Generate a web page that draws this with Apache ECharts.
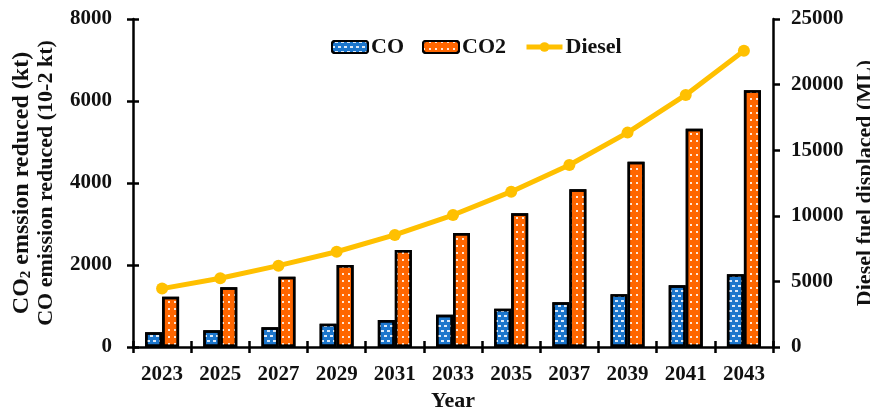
<!DOCTYPE html>
<html>
<head>
<meta charset="utf-8">
<script src="https://cdn.jsdelivr.net/npm/echarts@6/dist/echarts.min.js"></script>
<style>
  html, body { margin: 0; padding: 0; background: #fff; }
  #chart { width: 870px; height: 410px; }
</style>
</head>
<body>
<div id="chart"></div>
<script>
// Years on the category axis
const years = ['2023', '2025', '2027', '2029', '2031', '2033', '2035', '2037', '2039', '2041', '2043'];
// CO emission reduced (10-2 kt), left axis
const coValues = [358, 407, 480, 568, 659, 789, 935, 1089, 1285, 1504, 1772];
// CO2 emission reduced (kt), left axis
const co2Values = [1227, 1456, 1715, 2000, 2366, 2780, 3265, 3850, 4520, 5324, 6260];
// Diesel fuel displaced (ML), right axis
const dieselValues = [4450, 5240, 6200, 7260, 8540, 10060, 11840, 13870, 16340, 19210, 22580];

const FONT = '"Liberation Serif", "Times New Roman", serif';
const tickFont = { fontFamily: FONT, fontWeight: 'bold', fontSize: 21, color: '#111' };
const titleFont = { fontFamily: FONT, fontWeight: 'bold', fontSize: 22, color: '#111' };
const axisLineStyle = { color: '#000', width: 2.5 };
const tickLine = { color: '#000', width: 2.5 };
const plain = v => String(v);

const chart = echarts.init(document.getElementById('chart'), null, { renderer: 'canvas' });

chart.setOption({
  animation: false,
  backgroundColor: '#fff',
  grid: { left: 133, right: 97, top: 19, bottom: 63, containLabel: false, outerBoundsMode: 'none' },
  legend: {
    data: ['CO', 'CO2', 'Diesel'],
    left: 331,
    top: 36,
    padding: 0,
    itemWidth: 36,
    itemHeight: 12,
    itemGap: 18,
    lineStyle: { width: 5 },
    textStyle: Object.assign({ padding: [0, 0, 0, -2] }, titleFont)
  },
  xAxis: [
    {
      type: 'category',
      data: years,
      position: 'bottom',
      axisLine: { show: true, onZero: false, lineStyle: axisLineStyle },
      axisTick: { show: true, length: 6, lineStyle: tickLine },
      axisLabel: Object.assign({ margin: 17 }, tickFont),
      name: 'Year',
      nameLocation: 'middle',
      nameGap: 41,
      nameTextStyle: titleFont,
      splitLine: { show: false }
    },
    {
      // inward half of the crossing ticks
      type: 'category',
      data: years,
      position: 'bottom',
      axisLine: { show: false, onZero: false },
      axisTick: { show: true, inside: true, length: 6, lineStyle: tickLine },
      axisLabel: { show: false },
      splitLine: { show: false }
    }
  ],
  yAxis: [
    {
      type: 'value',
      position: 'left',
      min: 0, max: 8000, interval: 2000,
      axisLine: { show: true, lineStyle: axisLineStyle },
      axisTick: { show: true, length: 6, lineStyle: tickLine },
      axisLabel: Object.assign({ margin: 21, formatter: plain }, tickFont),
      splitLine: { show: false },
      name: '{big|CO}{sub|2}{big| emssion reduced (kt)}\nCO emission reduced (10-2 kt)',
      nameLocation: 'middle',
      nameRotate: 90,
      nameGap: 73,
      nameTextStyle: Object.assign({
        lineHeight: 25,
        rich: {
          big: { fontFamily: FONT, fontWeight: 'bold', fontSize: 24, color: '#111', lineHeight: 25 },
          sub: { fontFamily: FONT, fontWeight: 'bold', fontSize: 15, color: '#111', lineHeight: 25, verticalAlign: 'bottom', padding: [9, 0, 0, 0] }
        }
      }, titleFont)
    },
    {
      type: 'value',
      position: 'right',
      min: 0, max: 25000, interval: 5000,
      axisLine: { show: true, lineStyle: axisLineStyle },
      axisTick: { show: true, length: 7, lineStyle: tickLine },
      axisLabel: Object.assign({ margin: 18, formatter: plain }, tickFont),
      splitLine: { show: false },
      name: 'Diesel fuel displaced (ML)',
      nameLocation: 'middle',
      nameRotate: 90,
      nameGap: 69,
      nameTextStyle: titleFont
    },
    {
      // inward half of the crossing ticks on the left axis
      type: 'value',
      position: 'left',
      min: 0, max: 8000, interval: 2000,
      axisLine: { show: false },
      axisTick: { show: true, inside: true, length: 6, lineStyle: tickLine },
      axisLabel: { show: false },
      splitLine: { show: false }
    }
  ],
  series: [
    {
      name: 'CO',
      type: 'bar',
      xAxisIndex: 0,
      yAxisIndex: 0,
      data: coValues,
      barWidth: 17,
      barGap: '0%',
      itemStyle: {
        color: '#1c76cc',
        borderColor: '#000',
        borderWidth: 2.5,
        decal: {
          symbol: 'rect',
          symbolSize: 1,
          color: 'rgba(255,255,255,0.85)',
          dashArrayX: [[3, 3], [0, 3, 3, 0]],
          dashArrayY: [1.5, 2.5]
        }
      }
    },
    {
      name: 'CO2',
      type: 'bar',
      xAxisIndex: 0,
      yAxisIndex: 0,
      data: co2Values,
      barWidth: 17,
      barGap: '0%',
      itemStyle: {
        color: '#ff6600',
        borderColor: '#000',
        borderWidth: 2.5,
        decal: {
          symbol: 'rect',
          symbolSize: 1,
          color: 'rgba(255,255,255,0.85)',
          dashArrayX: [2, 4],
          dashArrayY: [2, 4.5]
        }
      }
    },
    {
      name: 'Diesel',
      type: 'line',
      xAxisIndex: 0,
      yAxisIndex: 1,
      data: dieselValues,
      symbol: 'circle',
      symbolSize: 12,
      lineStyle: { color: '#ffc000', width: 5 },
      itemStyle: { color: '#ffc000' },
      z: 5
    }
  ]
});
</script>
</body>
</html>
